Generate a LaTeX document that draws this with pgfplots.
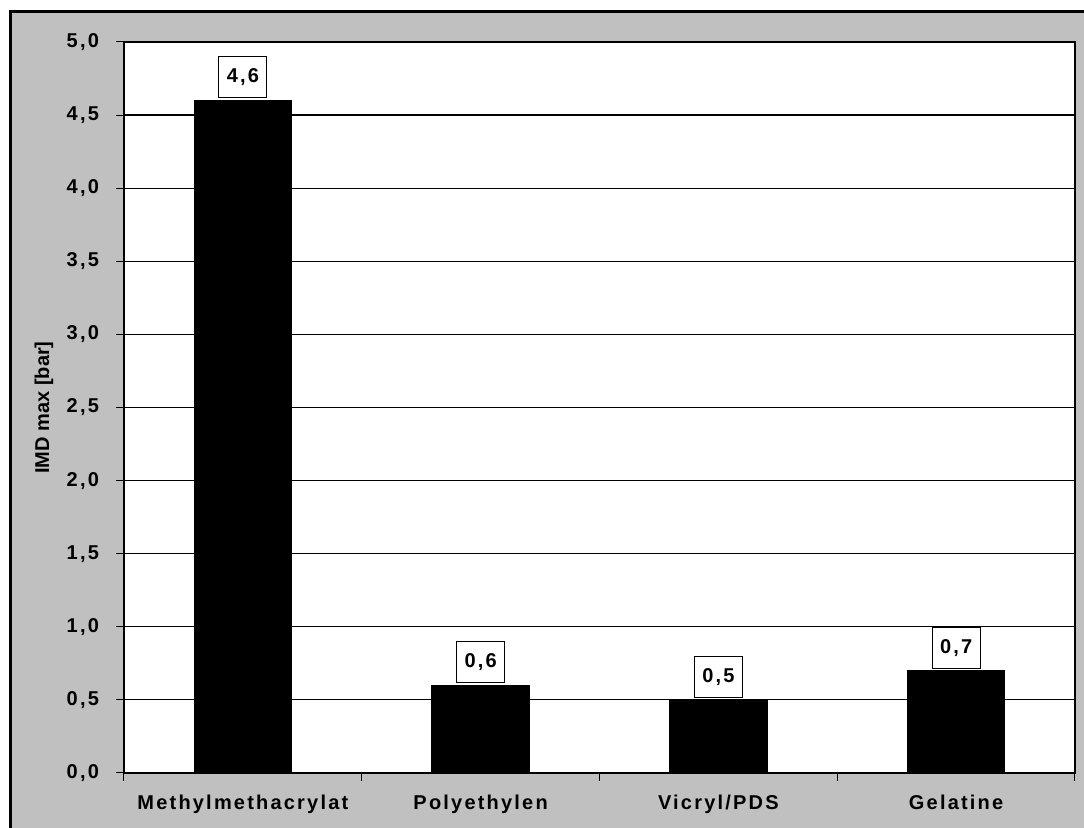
\documentclass[border=0pt]{standalone}
\usepackage{fontspec}
\setmainfont{Liberation Sans}
\newfontfamily\lsf[LetterSpace=11]{Liberation Sans}
\usepackage{pgfplots}
\pgfplotsset{compat=1.18}
\definecolor{bggray}{HTML}{C0C0C0}
\begin{document}
\begin{tikzpicture}[font=\fontsize{10}{12}\selectfont]
\fill[bggray] (5.25pt,-10pt) rectangle (560pt,408pt);
\begin{axis}[
  at={(62pt,27.5pt)}, anchor=south west,
  scale only axis, width=475.5pt, height=365.5pt,
  ybar, bar width=0.41,
  xmin=0.5, xmax=4.5, ymin=0, ymax=5,
  axis background/.style={fill=white},
  axis line style={line width=1.2pt},
  /pgf/number format/assume math mode=true,
  ytick={0,0.5,1,1.5,2,2.5,3,3.5,4,4.5,5},
  yticklabel style={xshift=-5pt, /pgf/number format/.cd, fixed, fixed zerofill, precision=1, use comma},
  ymajorgrids, grid style={black, line width=0.6pt},
  xtick={0.5,1.5,2.5,3.5,4.5}, xticklabels={},
  extra x ticks={1,2,3,4},
  extra x tick labels={Methylmethacrylat,Polyethylen,Vicryl/PDS,Gelatine},
  extra x tick style={grid=none, major tick length=0pt, xticklabel style={yshift=-7.5pt}},
  tick align=outside, major tick length=4pt, tick pos=left,
  tick style={black, line width=0.5pt},
  ticklabel style={font=\fontsize{10}{12}\selectfont\lsf\bfseries},
  ylabel={IMD max [bar]},
  ylabel style={font=\fontsize{10}{12}\selectfont\bfseries, at={(axis description cs:-0.0841,0.5)}, anchor=center},
  nodes near coords={\pgfmathprintnumber[fixed,fixed zerofill,precision=1,use comma]{\pgfplotspointmeta}},
  nodes near coords style={font=\fontsize{10}{12}\selectfont\lsf\bfseries, draw=black, fill=white, line width=0.5pt, inner xsep=4pt, inner ysep=6pt, anchor=south, yshift=1pt},
]
\addplot[fill=black, draw=black] coordinates {(1,4.6) (2,0.6) (3,0.5) (4,0.7)};
\end{axis}
\draw[line width=1.5pt] (5.25pt,-10pt) rectangle (560pt,408pt);
\pgfresetboundingbox
\useasboundingbox (0,0) rectangle (542pt,414pt);
\end{tikzpicture}
\end{document}
